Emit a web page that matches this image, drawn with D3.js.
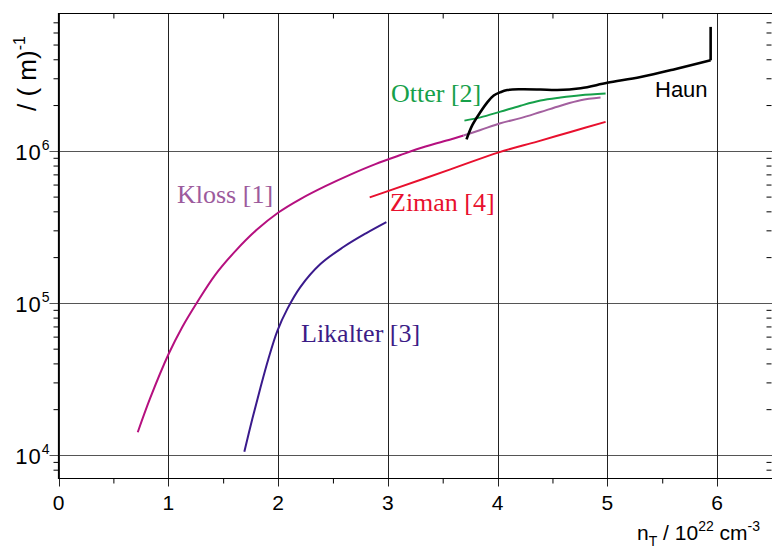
<!DOCTYPE html>
<html><head><meta charset="utf-8">
<script src="https://cdn.jsdelivr.net/npm/d3@7"></script>
<style>body{margin:0;background:#fff}</style></head>
<body><svg id="c" width="772" height="548"></svg>
<script>
// ---- data ----
const xTicks = [0,1,2,3,4,5,6];
const xMinorTicks = [0.5,1.5,2.5,3.5,4.5,5.5];
const yMajorTicks = [1e4,1e5,1e6];
const yMajorExp = ["4","5","6"];
const yMinorTicks = [8e3,9e3,2e4,3e4,4e4,5e4,6e4,7e4,8e4,9e4,2e5,3e5,4e5,5e5,6e5,7e5,8e5,9e5,2e6,3e6,4e6,5e6,6e6,7e6];

const klossLowX = [0.722,0.836,1.003,1.128,1.262,1.428,1.611,1.803,2.003,2.203,2.431,2.659,2.887,3.115,3.343,3.571,3.689];
const klossLowY = [1.41e4,2.37e4,4.61e4,6.95e4,1.007e5,1.53e5,2.19e5,3.01e5,3.93e5,4.82e5,5.86e5,6.98e5,8.18e5,9.38e5,1.067e6,1.186e6,1.26e6];
const klossHighX = [3.689,3.844,4.026,4.209,4.391,4.574,4.756,4.938];
const klossHighY = [1.26e6,1.37e6,1.52e6,1.64e6,1.80e6,1.98e6,2.15e6,2.24e6];
const otterX = [3.698,3.844,4.026,4.209,4.391,4.574,4.756,4.984];
const otterY = [1.58e6,1.66e6,1.81e6,1.98e6,2.14e6,2.24e6,2.32e6,2.38e6];
const zimanX = [2.835,2.994,3.57,4.011,4.361,4.664,4.984];
const zimanY = [4.94e5,5.41e5,7.55e5,9.77e5,1.15e6,1.33e6,1.55e6];
const likalterX = [1.693,1.766,1.839,1.912,1.994,2.085,2.203,2.386,2.595,2.805,2.987];
const likalterY = [1.05e4,1.73e4,2.76e4,4.28e4,6.55e4,9.13e4,1.27e5,1.80e5,2.33e5,2.88e5,3.40e5];
const haunX = [3.717,3.771,3.844,3.908,3.965,4.026,4.088,4.209,4.391,4.543,4.757,4.999,5.303,5.606,5.941,5.941];
const haunY = [1.19e6,1.48e6,1.80e6,2.09e6,2.31e6,2.43e6,2.51e6,2.54e6,2.53e6,2.51e6,2.58e6,2.80e6,3.06e6,3.43e6,3.94e6,6.53e6];

// ---- layout ----
const svg = d3.select("#c");
const L = 58.5, R = 772, T = 13.5, B = 478.5;
const x = d3.scaleLinear().domain([0,6.5]).range([L,R]);
const y = d3.scaleLog().domain([7000,8e6]).range([B,T]);
const sans = "'Liberation Sans', Arial, sans-serif";
const serif = "'Liberation Serif', 'Times New Roman', serif";

// gridlines
svg.append("g").selectAll("line").data(yMajorTicks).join("line")
  .attr("x1", L-9).attr("x2", R).attr("y1", d=>Math.round(y(d))+0.5).attr("y2", d=>Math.round(y(d))+0.5)
  .attr("stroke","#555").attr("stroke-width",1);
svg.append("g").selectAll("line").data(xTicks).join("line")
  .attr("x1", d=>Math.round(x(d))+0.5).attr("x2", d=>Math.round(x(d))+0.5).attr("y1", T).attr("y2", B+8)
  .attr("stroke","#222").attr("stroke-width",1);

// axes via d3
const fmtNone = () => "";
svg.append("g").attr("transform",`translate(0,${B})`)
  .call(d3.axisBottom(x).tickValues(xMinorTicks).tickSize(5).tickFormat(fmtNone))
  .call(g=>g.select(".domain").remove());
svg.append("g").attr("transform",`translate(0,${T})`)
  .call(d3.axisBottom(x).tickValues(xMinorTicks).tickSize(5).tickFormat(fmtNone))
  .call(g=>g.select(".domain").remove());
svg.append("g").attr("transform",`translate(${L},0)`)
  .call(d3.axisLeft(y).tickValues(yMinorTicks).tickSize(5).tickFormat(fmtNone))
  .call(g=>g.select(".domain").remove());
svg.append("g").attr("transform",`translate(${R-0.5},0)`)
  .call(d3.axisLeft(y).tickValues(yMinorTicks).tickSize(5).tickFormat(fmtNone))
  .call(g=>g.select(".domain").remove());
svg.selectAll(".tick line").attr("stroke","#000");

// frame (left, top, bottom)
svg.append("path").attr("d",`M${R},${T}H${L}V${B}H${R}`)
  .attr("fill","none").attr("stroke","#000").attr("stroke-width",1.2);

// x tick labels
svg.append("g").selectAll("text").data(xTicks).join("text")
  .attr("x", d=>x(d)).attr("y", 510).attr("text-anchor","middle")
  .attr("font-family",sans).attr("font-size",21).text(d=>d);

// y tick labels
const yl = svg.append("g").selectAll("text").data(yMajorTicks).join("text")
  .attr("x", 49.5).attr("y", d=>y(d)+9).attr("text-anchor","end")
  .attr("font-family",sans).attr("font-size",22).attr("letter-spacing",1);
yl.append("tspan").text("10");
yl.append("tspan").attr("dy",-10).attr("font-size",14).attr("letter-spacing",0).text((d,i)=>yMajorExp[i]);

// axis titles
const xt = svg.append("text").attr("x",760).attr("y",540).attr("text-anchor","end")
  .attr("font-family",sans).attr("font-size",21);
xt.append("tspan").text("n");
xt.append("tspan").attr("dy",6).attr("font-size",14).text("T");
xt.append("tspan").attr("dy",-6).text(" / 10");
xt.append("tspan").attr("dy",-9).attr("font-size",14).text("22");
xt.append("tspan").attr("dy",9).text(" cm");
xt.append("tspan").attr("dy",-9).attr("font-size",14).text("-3");

const yt = svg.append("text").attr("transform","translate(36,111) rotate(-90)")
  .attr("font-family",sans).attr("font-size",26);
yt.append("tspan").text("/ (   m)");
yt.append("tspan").attr("dy",-11).attr("font-size",16).text("-1");

// series
const lineSmooth = d3.line().x(d=>x(d[0])).y(d=>y(d[1])).curve(d3.curveCatmullRom.alpha(0.5));
const lineLin = d3.line().x(d=>x(d[0])).y(d=>y(d[1]));
function pairs(xs, ys){ return xs.map((v,i)=>[v,ys[i]]); }
function draw(xs, ys, color, w, gen){
  svg.append("path").attr("d",(gen||lineSmooth)(pairs(xs,ys))).attr("fill","none")
    .attr("stroke",color).attr("stroke-width",w).attr("stroke-linejoin","round");
}
draw(klossLowX, klossLowY, "#b5107f", 2);
draw(klossHighX, klossHighY, "#a3609f", 2);
draw(otterX, otterY, "#16a04a", 2);
draw(zimanX, zimanY, "#e8102e", 2);
draw(likalterX, likalterY, "#3a1a8c", 2);
draw(haunX.slice(0,-1), haunY.slice(0,-1), "#000", 2.6);
draw(haunX.slice(-2), haunY.slice(-2), "#000", 2.6, lineLin);

// labels
function label(t, px, py, color, font, size){
  svg.append("text").attr("x",px).attr("y",py).attr("fill",color)
    .attr("font-family",font).attr("font-size",size).text(t);
}
label("Kloss [1]", 177, 203, "#9c5a9c", serif, 26);
label("Otter [2]", 391, 102, "#16a04a", serif, 26);
label("Ziman [4]", 390, 211, "#e8102e", serif, 26);
label("Likalter [3]", 301, 342, "#3c1c86", serif, 26);
label("Haun", 655, 97, "#000", sans, 22);
</script></body></html>
